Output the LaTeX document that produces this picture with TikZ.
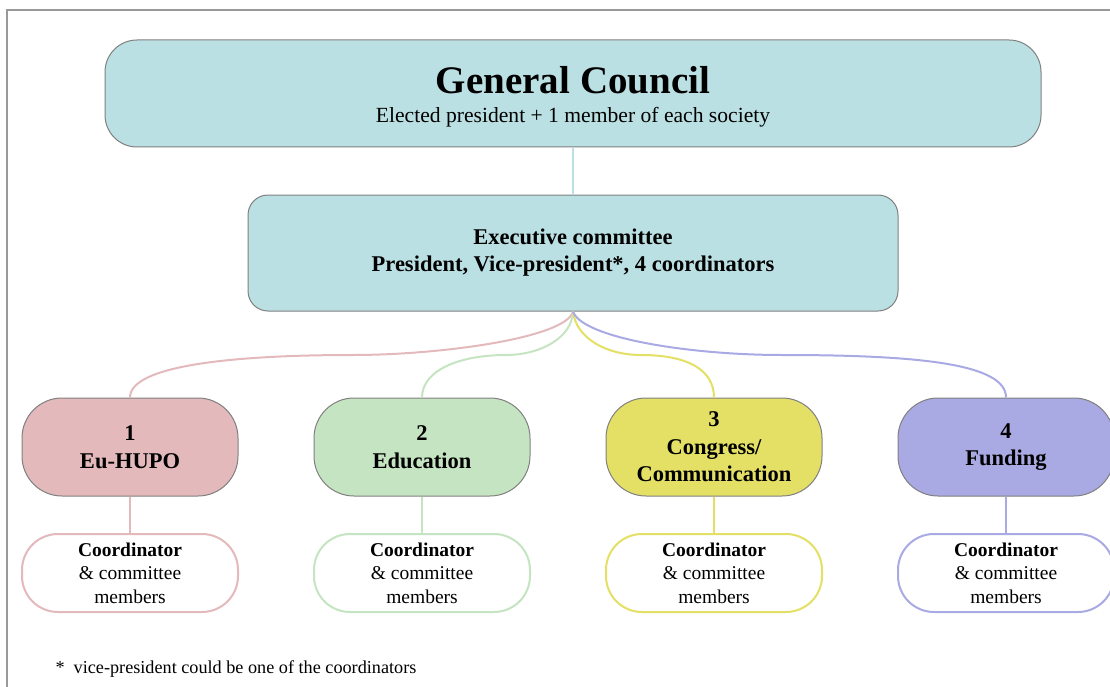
\documentclass[tikz,border=0pt]{standalone}
\usepackage{fontspec}
\setmainfont{Liberation Serif}

\definecolor{councilfill}{HTML}{BBE0E3}
\definecolor{pinkfill}{HTML}{E3B9BC}
\definecolor{greenfill}{HTML}{C5E4C1}
\definecolor{yellowfill}{HTML}{E3E065}
\definecolor{purplefill}{HTML}{A9A9E3}
\definecolor{boxgray}{HTML}{808080}
\definecolor{framegray}{HTML}{999999}

\begin{document}
\begin{tikzpicture}[x=1pt, y=1pt,
  council/.style={draw=boxgray, fill=councilfill, line width=1pt, rounded corners=32pt, minimum width=936pt, minimum height=107pt},
  execbox/.style={draw=boxgray, fill=councilfill, line width=1pt, rounded corners=20pt, minimum width=650pt, minimum height=116pt, align=center, font=\fontsize{22.5}{27}\selectfont\bfseries},
  area/.style={draw=boxgray, line width=1pt, rounded corners=40pt, minimum width=216pt, minimum height=98pt, inner sep=0pt, align=center, font=\fontsize{22.5}{27.5}\selectfont\bfseries},
  group/.style={fill=white, line width=2pt, rounded corners=36pt, minimum width=216pt, minimum height=78pt, inner sep=0pt, align=center, font=\fontsize{19.5}{23.5}\selectfont},
  link/.style={line width=2pt},
  stem/.style={line width=1.5pt}]

\useasboundingbox (0,0) rectangle (1110,-687);
\draw [framegray, line width=1.5pt] (7,-700) -- (7,-10) -- (1130,-10);

% councils
\node[council] (gc) at (573,-93.5) {};
\node[font=\fontsize{39}{44}\selectfont\bfseries] (gctitle) at (573,-80) {General Council};
\node[font=\fontsize{21.6}{24}\selectfont] (gcsub) at (573,-117) {Elected president + 1 member of each society};

\node[execbox] (exec) at (573,-253) {Executive committee\\President, Vice-president*, 4 coordinators};
\draw [link, councilfill] (gc.south) -- (exec.north);

% areas
\node[area, fill=pinkfill] (eu) at (130,-447) {1\\Eu-HUPO};
\node[area, fill=greenfill] (edu) at (422,-447) {2\\Education};
\node[area, fill=yellowfill] (cong) at (714,-447) {3\\Congress/\\Communication};
\node[area, fill=purplefill] (fund) at (1006,-447) {4\\Funding};

\coordinate (eumid) at (353,-355);
\coordinate (edumid) at (506,-355);
\coordinate (congmid) at (641,-355);
\coordinate (fundmid) at (782,-355);

\draw [link, pinkfill] (exec.south) .. controls (566,-338) and (440,-355) .. (eumid) .. controls (230,-355) and (130,-366) .. (eu.north);
\draw [link, greenfill] (exec.south) .. controls (572,-338) and (540,-355) .. (edumid) .. controls (460,-355) and (422,-370) .. (edu.north);
\draw [link, yellowfill] (exec.south) .. controls (576,-338) and (606,-355) .. (congmid) .. controls (688,-355) and (714,-370) .. (cong.north);
\draw [link, purplefill] (exec.south) .. controls (582,-338) and (690,-355) .. (fundmid) .. controls (920,-355) and (1006,-364) .. (fund.north);

% coordinators
\node[group, draw=pinkfill] (eucoord) at (130,-573) {\textbf{Coordinator}\\\& committee\\members};
\node[group, draw=greenfill] (educoord) at (422,-573) {\textbf{Coordinator}\\\& committee\\members};
\node[group, draw=yellowfill] (congcoord) at (714,-573) {\textbf{Coordinator}\\\& committee\\members};
\node[group, draw=purplefill] (fundcoord) at (1006,-573) {\textbf{Coordinator}\\\& committee\\members};

\draw [stem, pinkfill] (eu.south) -- (eucoord.north);
\draw [stem, greenfill] (edu.south) -- (educoord.north);
\draw [stem, yellowfill] (cong.south) -- (congcoord.north);
\draw [stem, purplefill] (fund.south) -- (fundcoord.north);

\node[anchor=west, font=\fontsize{18.2}{22}\selectfont] (note) at (52,-669) {*\ \ vice-president could be one of the coordinators};
\end{tikzpicture}
\end{document}
